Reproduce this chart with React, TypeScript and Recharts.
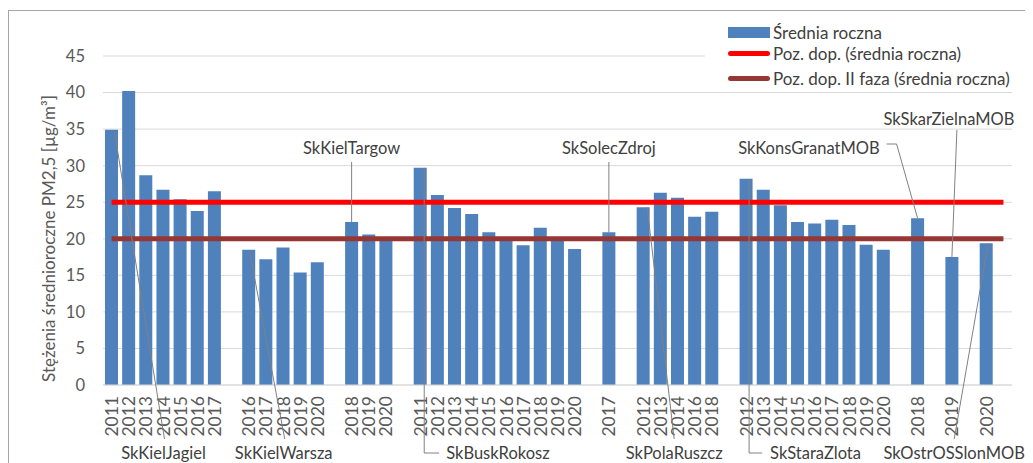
import React from "react";
import { Bar, CartesianGrid, ComposedChart, LabelList, Line, XAxis, YAxis } from "recharts";

// Excel-ish palette
const BAR = "#4F81BD";
const LIMIT_RED = "#FF0000";
const LIMIT_DARK = "#953735";
const TICK = "#595959";
const INK = "#404040";
const LEADER = "#808080";
const GRID = "#D9D9D9";
const FONT = "Lato, 'Open Sans', sans-serif";

const STATIONS = [
  "SkKielJagiel",
  "SkKielWarsza",
  "SkKielTargow",
  "SkBuskRokosz",
  "SkSolecZdroj",
  "SkPolaRuszcz",
  "SkStaraZlota",
  "SkKonsGranatMOB",
  "SkSkarZielnaMOB",
  "SkOstrOSSlonMOB",
];

const KIEL_JAGIEL_YEARS = ["2011", "2012", "2013", "2014", "2015", "2016", "2017"];
const KIEL_JAGIEL_VALUES = [34.9, 40.2, 28.7, 26.7, 25.4, 23.8, 26.5];

const KIEL_WARSZA_YEARS = ["2016", "2017", "2018", "2019", "2020"];
const KIEL_WARSZA_VALUES = [18.5, 17.2, 18.8, 15.4, 16.8];

const KIEL_TARGOW_YEARS = ["2018", "2019", "2020"];
const KIEL_TARGOW_VALUES = [22.3, 20.6, 19.9];

const BUSK_ROKOSZ_YEARS = ["2011", "2012", "2013", "2014", "2015", "2016", "2017", "2018", "2019", "2020"];
const BUSK_ROKOSZ_VALUES = [29.7, 26.0, 24.2, 23.4, 20.9, 20.0, 19.1, 21.5, 19.8, 18.6];

const SOLEC_ZDROJ_YEARS = ["2017"];
const SOLEC_ZDROJ_VALUES = [20.9];

const POLA_RUSZCZ_YEARS = ["2012", "2013", "2014", "2016", "2018"];
const POLA_RUSZCZ_VALUES = [24.3, 26.3, 25.6, 23.0, 23.7];

const STARA_ZLOTA_YEARS = ["2012", "2013", "2014", "2015", "2016", "2017", "2018", "2019", "2020"];
const STARA_ZLOTA_VALUES = [28.2, 26.7, 24.6, 22.3, 22.1, 22.6, 21.9, 19.2, 18.5];

const KONS_GRANAT_YEARS = ["2018"];
const KONS_GRANAT_VALUES = [22.8];

const SKAR_ZIELNA_YEARS = ["2019"];
const SKAR_ZIELNA_VALUES = [17.5];

const OSTR_SLON_YEARS = ["2020"];
const OSTR_SLON_VALUES = [19.4];

const STATION_YEARS = [
  KIEL_JAGIEL_YEARS, KIEL_WARSZA_YEARS, KIEL_TARGOW_YEARS, BUSK_ROKOSZ_YEARS, SOLEC_ZDROJ_YEARS,
  POLA_RUSZCZ_YEARS, STARA_ZLOTA_YEARS, KONS_GRANAT_YEARS, SKAR_ZIELNA_YEARS, OSTR_SLON_YEARS,
];
const STATION_VALUES = [
  KIEL_JAGIEL_VALUES, KIEL_WARSZA_VALUES, KIEL_TARGOW_VALUES, BUSK_ROKOSZ_VALUES, SOLEC_ZDROJ_VALUES,
  POLA_RUSZCZ_VALUES, STARA_ZLOTA_VALUES, KONS_GRANAT_VALUES, SKAR_ZIELNA_VALUES, OSTR_SLON_VALUES,
];

const LIMIT_ANNUAL = 25;
const LIMIT_PHASE2 = 20;
const Y_TICKS = [0, 5, 10, 15, 20, 25, 30, 35, 40, 45];

const SERIES_NAMES = ["Średnia roczna", "Poz. dop. (średnia roczna)", "Poz. dop. II faza (średnia roczna)"];
const Y_TITLE = "Stężenia średnioroczne PM2,5 [µg/m³]";

type Row = {
  key: string;
  year: string;
  value: number | null;
  limit: number;
  limit2: number;
  note?: string;
};

// one empty category after every station (incl. the last one, like the Excel source)
const rows: Row[] = [];
STATIONS.forEach((station, g) => {
  STATION_YEARS[g].forEach((year, i) => {
    rows.push({
      key: `${station}-${year}`,
      year,
      value: STATION_VALUES[g][i],
      limit: LIMIT_ANNUAL,
      limit2: LIMIT_PHASE2,
      note: i === 0 ? station : undefined,
    });
  });
  rows.push({ key: `gap-${g}`, year: "", value: null, limit: LIMIT_ANNUAL, limit2: LIMIT_PHASE2 });
});
const yearByKey = new Map(rows.map((r) => [r.key, r.year]));

// Callout placement, px offsets from the bar centre: "t" = from bar top, "b" = from zero line.
type Pt = [number, "t" | "b", number];
type NoteLayout = { path: Pt[]; text: Pt; anchor: "start" | "middle" | "end" };
const NOTE_LAYOUT: Record<string, NoteLayout> = {
  SkKielJagiel: { path: [[3, "t", 2], [53, "b", 54]], text: [52, "b", 68], anchor: "middle" },
  SkKielWarsza: { path: [[1, "t", 2], [36, "b", 54]], text: [35, "b", 68], anchor: "middle" },
  SkKielTargow: { path: [[0, "t", 0], [0, "b", -223]], text: [0, "b", -237], anchor: "middle" },
  SkBuskRokosz: { path: [[4, "t", 0], [4, "b", 68], [19, "b", 68]], text: [26, "b", 68], anchor: "start" },
  SkSolecZdroj: { path: [[0, "t", 0], [0, "b", -223]], text: [0, "b", -237], anchor: "middle" },
  SkPolaRuszcz: { path: [[4, "t", 0], [31, "b", 54]], text: [31, "b", 68], anchor: "middle" },
  SkStaraZlota: { path: [[3, "t", 0], [3, "b", 68], [16, "b", 68]], text: [24, "b", 68], anchor: "start" },
  SkKonsGranatMOB: { path: [[0, "t", 0], [-21, "b", -241], [-31, "b", -241]], text: [-38, "b", -237], anchor: "end" },
  SkSkarZielnaMOB: { path: [[0, "t", 0], [5, "b", -255]], text: [-3, "b", -266], anchor: "middle" },
  SkOstrOSSlonMOB: { path: [[2, "t", 0], [-32, "b", 54]], text: [-32, "b", 68], anchor: "middle" },
};

function renderNote(props: any) {
  const { x, y, width, height, value } = props;
  const layout = value ? NOTE_LAYOUT[value] : undefined;
  if (!layout) return null;
  const cx = Number(x) + Number(width) / 2;
  const top = Number(y);
  const base = Number(y) + Number(height);
  const at = ([dx, from, dy]: Pt) => [cx + dx, (from === "t" ? top : base) + dy];
  const pts = layout.path.map((p) => at(p).join(",")).join(" ");
  const [tx, ty] = at(layout.text);
  return (
    <g>
      <polyline points={pts} fill="none" stroke={LEADER} strokeWidth={1} />
      <text
        x={tx}
        y={ty}
        textAnchor={layout.anchor}
        dominantBaseline="central"
        fontFamily={FONT}
        fontSize={16.5}
        fill={INK}
      >
        {value}
      </text>
    </g>
  );
}

function YearTick({ x, y, payload }: any) {
  const year = yearByKey.get(payload.value) ?? "";
  if (!year) return null;
  return (
    <text
      transform={`translate(${x},${y + 11}) rotate(-90)`}
      textAnchor="end"
      dominantBaseline="central"
      fontFamily={FONT}
      fontSize={17.5}
      fill={TICK}
    >
      {year}
    </text>
  );
}

function YTitle({ viewBox }: any) {
  const cx = 40;
  const cy = viewBox.y + viewBox.height / 2 + 18;
  return (
    <text
      transform={`translate(${cx},${cy}) rotate(-90)`}
      textAnchor="middle"
      dominantBaseline="central"
      fontFamily={FONT}
      fontSize={17}
      fill={TICK}
    >
      {Y_TITLE}
    </text>
  );
}

function LegendBox() {
  const row = (top: number): React.CSSProperties => ({
    position: "absolute",
    left: 23,
    top,
    height: 20,
    display: "flex",
    alignItems: "center",
    whiteSpace: "nowrap",
  });
  const label: React.CSSProperties = { marginLeft: 3, fontFamily: FONT, fontSize: 17, color: INK };
  return (
    <div style={{ position: "absolute", left: 697, top: 10, width: 330, height: 70, background: "#fff" }}>
      <div style={row(4)}>
        <span style={{ width: 42, height: 11, background: BAR, display: "inline-block" }} />
        <span style={label}>{SERIES_NAMES[0]}</span>
      </div>
      <div style={row(25)}>
        <span style={{ width: 42, height: 5, borderRadius: 3, background: LIMIT_RED, display: "inline-block" }} />
        <span style={label}>{SERIES_NAMES[1]}</span>
      </div>
      <div style={row(50)}>
        <span style={{ width: 42, height: 5, borderRadius: 3, background: LIMIT_DARK, display: "inline-block" }} />
        <span style={label}>{SERIES_NAMES[2]}</span>
      </div>
    </div>
  );
}

export default function App() {
  return (
    <div style={{ position: "relative", width: 1025, height: 455, overflow: "hidden", background: "#fff" }}>
      <div
        style={{
          position: "absolute",
          left: 0,
          top: 2,
          width: 1040,
          height: 480,
          border: "1px solid #A6A6A6",
          boxSizing: "border-box",
        }}
      />
      <ComposedChart
        width={1025}
        height={455}
        data={rows}
        margin={{ top: 48, right: 21, bottom: 0, left: 0 }}
        style={{ position: "absolute", left: 0, top: 0 }}
      >
        <CartesianGrid vertical={false} stroke={GRID} />
        <XAxis
          dataKey="key"
          interval={0}
          height={78}
          tickLine={false}
          tickSize={0}
          tickMargin={0}
          axisLine={{ stroke: GRID }}
          tick={<YearTick />}
        />
        <YAxis
          width={95}
          domain={[0, 45]}
          ticks={Y_TICKS}
          axisLine={false}
          tickLine={false}
          tickSize={0}
          tickMargin={18}
          tick={{ fontSize: 16.5, fill: TICK, fontFamily: FONT }}
          label={<YTitle />}
        />
        <Bar dataKey="value" name={SERIES_NAMES[0]} fill={BAR} barSize={13} isAnimationActive={false}>
          <LabelList dataKey="note" content={renderNote} />
        </Bar>
        <Line
          dataKey="limit"
          name={SERIES_NAMES[1]}
          stroke={LIMIT_RED}
          strokeWidth={5}
          dot={false}
          activeDot={false}
          isAnimationActive={false}
        />
        <Line
          dataKey="limit2"
          name={SERIES_NAMES[2]}
          stroke={LIMIT_DARK}
          strokeWidth={5}
          dot={false}
          activeDot={false}
          isAnimationActive={false}
        />
      </ComposedChart>
      <LegendBox />
    </div>
  );
}
